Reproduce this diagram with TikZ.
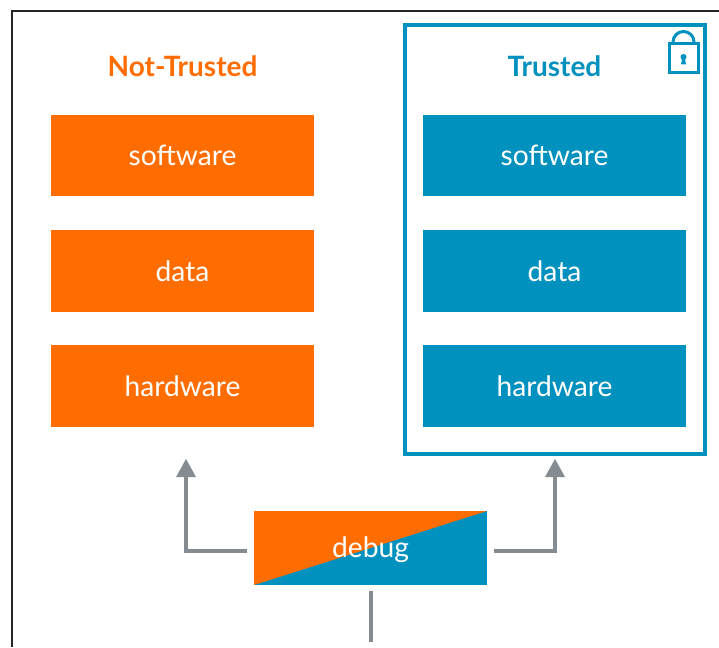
\documentclass[tikz,border=0pt]{standalone}
\usepackage{fontspec}
\setmainfont{Lato}
\usepackage{tikz}
\usetikzlibrary{positioning}
\definecolor{nottrusted}{HTML}{FF6D00}
\definecolor{trusted}{HTML}{0091BE}
\definecolor{flowgray}{HTML}{848B91}
\tikzset{
    layerbox/.style={minimum width=263pt, minimum height=81.5pt, inner sep=0pt, text=white, font=\fontsize{28.2}{30}\selectfont},
    heading/.style={inner sep=0pt, font=\fontsize{28}{30}\selectfont\bfseries},
    flow/.style={flowgray, line width=4pt},
    flowtip/.style={fill=flowgray, draw=none}
}
\begin{document}
\begin{tikzpicture}[x=1pt,y=-1pt]
\useasboundingbox (0,0) rectangle (719,647);
    \draw[line width=2pt, black!85](12,647)--(12,11)--(719,11);
% two columns
    \node[heading, text=nottrusted] (NT) at (182.5,66.5){Not-Trusted};
    \node[heading, text=trusted] (T) at (554.5,66.5){Trusted};
    \node[layerbox, fill=nottrusted] (NTsw) at (182.5,155.7){software};
    \node[layerbox, fill=nottrusted] (NTd) at (182.5,271){data};
    \node[layerbox, fill=nottrusted] (NThw) at (182.5,386.2){hardware};
    \node[layerbox, fill=trusted] (Tsw) at (554.5,155.7){software};
    \node[layerbox, fill=trusted] (Td) at (554.5,271){data};
    \node[layerbox, fill=trusted] (Thw) at (554.5,386.2){hardware};
    \draw[trusted, line width=4pt](405,25.5) rectangle (705,453.5);
% lock
    \draw[trusted, line width=3pt](669,44) rectangle (698,73);
    \draw[trusted, line width=3pt](673,44)--(673,42) arc (180:360:10.5)--(694,44);
    \fill[trusted](683.5,57) circle (3);
    \fill[trusted](682.2,58)--(684.8,58)--(686,64.5)--(681,64.5)--cycle;
% debug
    \node[minimum width=233pt, minimum height=74pt, inner sep=0pt, fill=trusted, text=white,
        font=\fontsize{28.2}{30}\selectfont, text depth=0pt,
        path picture={\fill[nottrusted](path picture bounding box.north west)--(path picture bounding box.north east)--(path picture bounding box.south west)--cycle;}]
        (debug) at (370.5,548){};
    \node[text=white, inner sep=0pt, font=\fontsize{28.2}{30}\selectfont] (debuglabel) at (370.5,550){debug};
    \coordinate (NTfrom) at (247,551);
    \coordinate (Tfrom) at (494,551);
    \coordinate (NTto) at (186,476);
    \coordinate (Tto) at (555,476);
    \coordinate (in) at (370.5,642);
    \coordinate (inb) at (370.5,591);
    \draw[flow](NTfrom)-|(NTto);
    \draw[flow](Tfrom)-|(Tto);
    \draw[flow](in)--(inb);
    \fill[flowtip](NTto)++(-10,1)--++(20,0)--++(-10,-18)--cycle;
    \fill[flowtip](Tto)++(-10,1)--++(20,0)--++(-10,-18)--cycle;
\end{tikzpicture}
\end{document}
